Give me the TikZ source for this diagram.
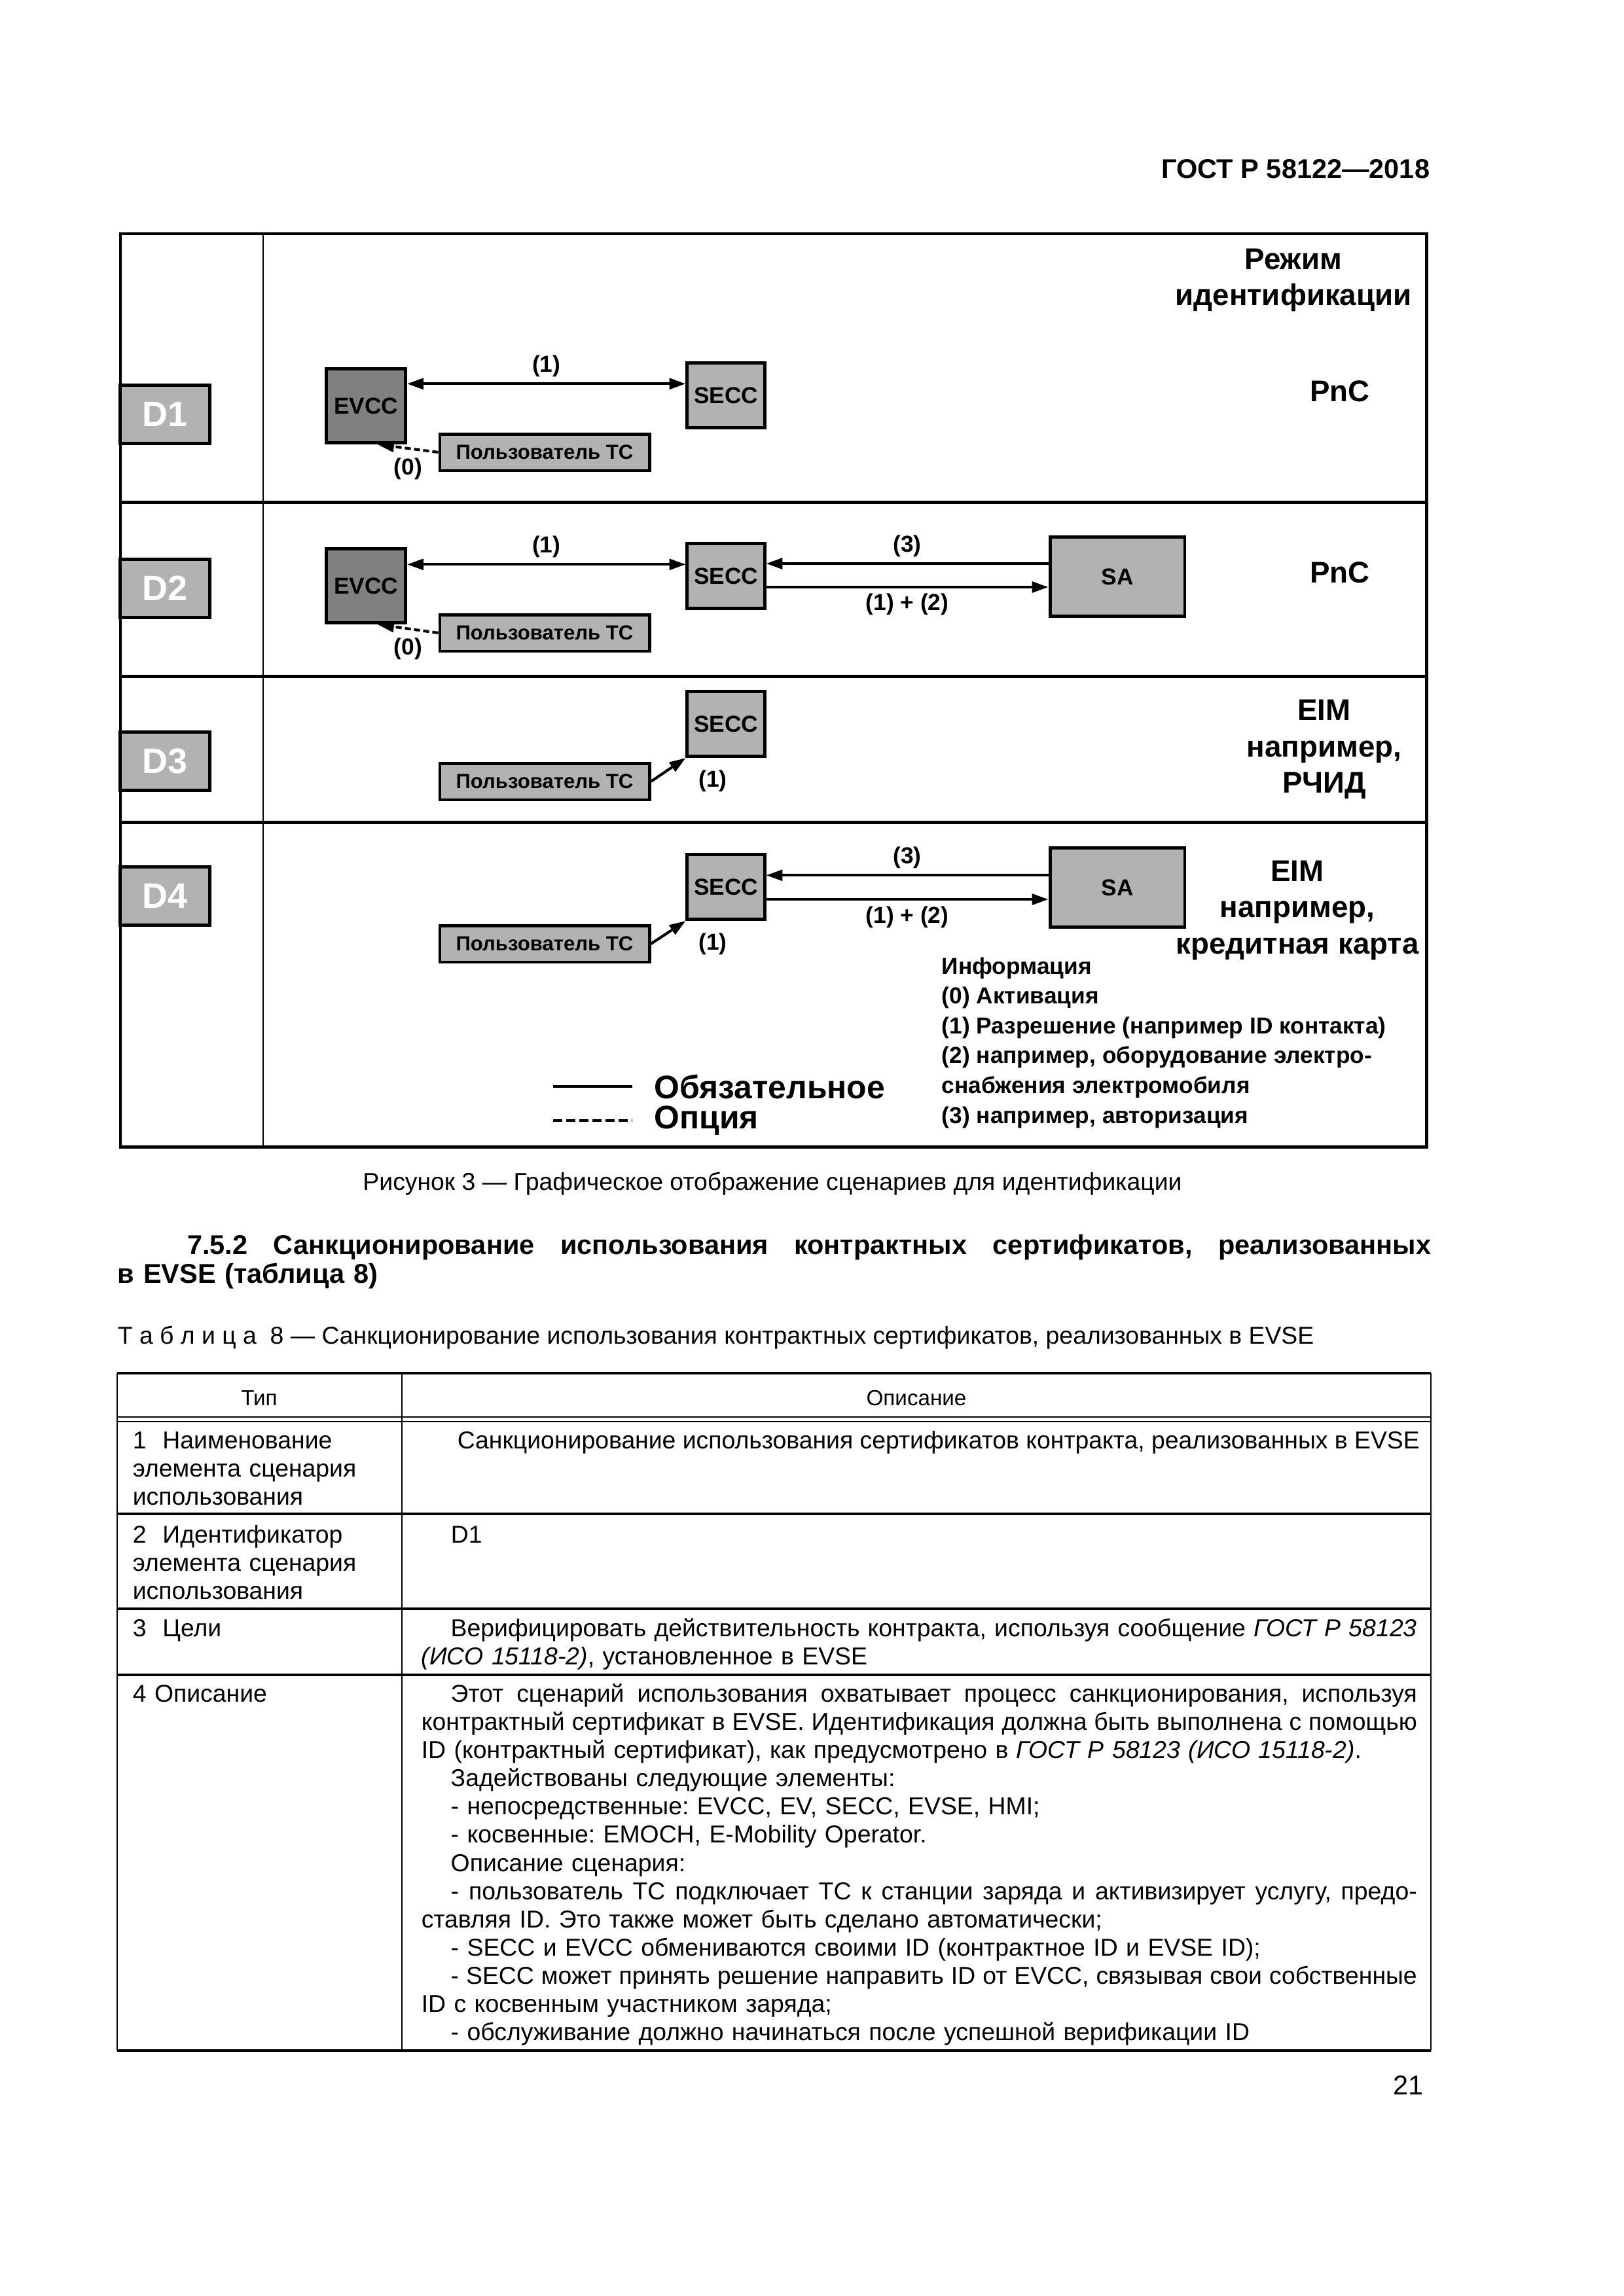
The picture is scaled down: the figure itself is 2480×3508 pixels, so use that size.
\documentclass[tikz,border=0pt]{standalone}
\usepackage{fontspec}
\setmainfont{Liberation Sans}
\usetikzlibrary{arrows.meta,positioning}
\definecolor{boxgray}{gray}{0.70}
\definecolor{evgray}{gray}{0.50}
\newlength\cellw \setlength\cellw{12.88cm}
\newlength\parind \setlength\parind{0.38cm}
\newcommand\jline[2][\cellw]{\makebox[#1][s]{\spaceskip=\fontdimen2\font plus 1fil minus .3\fontdimen2\font\relax#2}}
\newcommand\fnt[2]{\fontsize{#1}{#2}\selectfont}
\frenchspacing
\tikzset{
dframe/.style={line width=1.2pt},
blk/.style={draw,line width=1.2pt,fill=boxgray,inner sep=0pt,font=\bfseries\fnt{8.5}{10}},
dbox/.style={blk,minimum width=1.16cm,minimum height=.76cm,text=white,font=\bfseries\fnt{13}{15}},
evcc/.style={blk,fill=evgray,minimum width=1.025cm,minimum height=.96cm},
secc/.style={blk,minimum width=1cm,minimum height=.84cm},
sabox/.style={blk,minimum width=1.744cm,minimum height=1.03cm},
user/.style={blk,minimum width=2.71cm,minimum height=.474cm,font=\bfseries\fnt{7.5}{9}},
lbl/.style={inner sep=1pt,font=\bfseries\fnt{8.5}{10}},
idmode/.style={align=center,font=\bfseries\fnt{11}{13.4}},
flow/.style={-{Triangle[length=6pt,width=4pt]},line width=1pt},
both/.style={{Triangle[length=6pt,width=4pt]}-{Triangle[length=6pt,width=4pt]},line width=1pt},
opt/.style={flow,dash pattern=on 2.2pt off 1.2pt},
txt/.style={inner sep=0pt,font=\fnt{9}{10.4}},
tcell/.style={txt,anchor=base west,align=left},
tline/.style={line width=.9pt},
vline/.style={line width=.5pt}
}
\begin{document}
\begin{tikzpicture}[x=0.0084677cm,y=-0.0084677cm]
\useasboundingbox[fill=white] (0,0) rectangle (2480,3508);
\node[anchor=base east,inner sep=0pt,font=\bfseries\fnt{10}{12}] (gost) at (2185,272) {ГОСТ Р 58122—2018};

% figure frame
\draw[dframe] (184,357) rectangle (2179,1752);
\draw[line width=.6pt] (402,357) -- (402,1752);
\foreach \yy in {767,1033,1256} \draw[dframe] (184,\yy) -- (2179,\yy);
\node[idmode] (hdr) at (1976,428) {Режим\\идентификации};

% D1
\node[dbox] (d1) at (252,633) {D1};
\node[evcc] (ev1) at (559,620) {EVCC};
\node[secc] (se1) at (1109,604) {SECC};
\node[user] (u1) at (832,691) {Пользователь ТС};
\draw[both] (se1.164 -| ev1.east) -- node[lbl,above=1pt] (l1a) {(1)} (se1.164);
\draw[opt] (u1.west) -- node[lbl,below=2pt] (l1b) {(0)} (ev1.-73);
\node[idmode] (pnc1) at (2047,598) {PnC};

% D2
\node[dbox] (d2) at (252,899) {D2};
\node[evcc] (ev2) at (559,895) {EVCC};
\node[secc] (se2) at (1109,880) {SECC};
\node[sabox] (sa2) at (1707,881) {SA};
\node[user] (u2) at (832,967) {Пользователь ТС};
\coordinate (sa2a) at ([yshift=4.8pt]sa2.west);
\coordinate (se2b) at ([yshift=-4.1pt]se2.east);
\draw[both] (se2.164 -| ev2.east) -- node[lbl,above=1pt] (l2a) {(1)} (se2.164);
\draw[flow] (sa2a) -- node[lbl,above=1pt] (l2c) {(3)} (sa2a -| se2.east);
\draw[flow] (se2b) -- node[lbl,below=1pt] (l2d) {(1) + (2)} (se2b -| sa2.west);
\draw[opt] (u2.west) -- node[lbl,below=2pt] (l2b) {(0)} (ev2.-73);
\node[idmode] (pnc2) at (2047,875) {PnC};

% D3
\node[dbox] (d3) at (252,1163) {D3};
\node[secc] (se3) at (1109,1106) {SECC};
\node[user] (u3) at (832,1194) {Пользователь ТС};
\draw[flow] (u3.east) -- (se3.south west);
\node[lbl] (l3) at (1089,1193) {(1)};
\node[idmode] (eim3) at (2023,1145) {EIM\\например,\\РЧИД};

% D4
\node[dbox] (d4) at (252,1369) {D4};
\node[secc] (se4) at (1109,1355) {SECC};
\node[sabox] (sa4) at (1707,1356) {SA};
\node[user] (u4) at (832,1442) {Пользователь ТС};
\coordinate (sa4a) at ([yshift=4.5pt]sa4.west);
\coordinate (se4b) at ([yshift=-4.6pt]se4.east);
\draw[flow] (sa4a) -- node[lbl,above=1pt] (l4c) {(3)} (sa4a -| se4.east);
\draw[flow] (se4b) -- node[lbl,below=1pt] (l4d) {(1) + (2)} (se4b -| sa4.west);
\draw[flow] (u4.east) -- (se4.south west);
\node[lbl] (l4) at (1089,1442) {(1)};
\node[idmode] (eim4) at (1982,1391) {EIM\\например,\\кредитная карта};

\node[anchor=west,align=left,inner sep=0pt,font=\bfseries\fnt{8.5}{11}] (info) at (1438,1593) {Информация\\(0) Активация\\(1) Разрешение (например ID контакта)\\(2) например, оборудование электро-\\снабжения электромобиля\\(3) например, авторизация};
\node[anchor=west,inner sep=0pt,font=\bfseries\fnt{12}{14}] (lm) at (999,1660) {Обязательное};
\node[anchor=west,inner sep=0pt,font=\bfseries\fnt{12}{14}] (lo) at (999,1712) {Опция};
\draw[line width=1.1pt] ([xshift=-37pt]lm.west) -- ([xshift=-8pt]lm.west);
\draw[line width=.8pt,dash pattern=on 3.3pt off 1.5pt] ([xshift=-37pt]lo.west) -- ([xshift=-8pt]lo.west);

\node[txt,anchor=base] (cap) at (1180,1818) {Рисунок 3 — Графическое отображение сценариев для идентификации};
\node[tcell,text width=16.99cm,font=\bfseries\fnt{10}{10.6}] (h752) at (179,1916) {\jline[16.99cm]{\hspace*{0.9cm}7.5.2 Санкционирование использования контрактных сертификатов, реализованных}\\в EVSE (таблица 8)};
\node[tcell] (tabt) at (179,2053) {Т а б л и ц а\ \ 8 — Санкционирование использования контрактных сертификатов, реализованных в EVSE};

% table 8
\foreach \yy in {2098,2313,2458,2559,3133} \draw[tline] (179,\yy) -- (2186,\yy);
\foreach \yy in {2165,2172} \draw[vline] (179,\yy) -- (2186,\yy);
\foreach \xx in {179,614,2186} \draw[vline] (\xx,2098) -- (\xx,3133);
\node[txt,anchor=base,font=\fnt{8}{10}] (th1) at (396,2147) {Тип};
\node[txt,anchor=base,font=\fnt{8}{10}] (th2) at (1400,2147) {Описание};
\node[tcell,text width=4cm] (c1) at (202,2213) {1\ \ Наименование\\элемента сценария\\использования};
\node[tcell] (c1r) at (698,2213) {Санкционирование использования сертификатов контракта, реализованных в EVSE};
\node[tcell,text width=4cm] (c2) at (202,2357) {2\ \ Идентификатор\\элемента сценария\\использования};
\node[tcell] (c2r) at (688,2357) {D1};
\node[tcell,text width=4cm] (c3) at (202,2500) {3\ \ Цели};
\node[tcell,text width=\cellw] (c3r) at (643,2500) {\jline{\hspace*{\parind}Верифицировать действительность контракта, используя сообщение \textit{ГОСТ Р 58123}}\\\textit{(ИСО 15118-2)}, установленное в EVSE};
\node[tcell,text width=4cm] (c4) at (202,2600) {4 Описание};
\node[tcell,text width=\cellw] (c4r) at (643,2600) {\jline{\hspace*{\parind}Этот сценарий использования охватывает процесс санкционирования, используя}\\
\jline{контрактный сертификат в EVSE. Идентификация должна быть выполнена с помощью}\\
ID (контрактный сертификат), как предусмотрено в \textit{ГОСТ Р 58123 (ИСО 15118-2)}.\\
\hspace*{\parind}Задействованы следующие элементы:\\
\hspace*{\parind}- непосредственные: EVCC, EV, SECC, EVSE, HMI;\\
\hspace*{\parind}- косвенные: EMOCH, E-Mobility Operator.\\
\hspace*{\parind}Описание сценария:\\
\jline{\hspace*{\parind}- пользователь ТС подключает ТС к станции заряда и активизирует услугу, предо-}\\
ставляя ID. Это также может быть сделано автоматически;\\
\hspace*{\parind}- SECC и EVCC обмениваются своими ID (контрактное ID и EVSE ID);\\
\jline{\hspace*{\parind}- SECC может принять решение направить ID от EVCC, связывая свои собственные}\\
ID с косвенным участником заряда;\\
\hspace*{\parind}- обслуживание должно начинаться после успешной верификации ID};
\node[anchor=base east,inner sep=0pt,font=\fnt{10}{12}] (pg) at (2175,3200) {21};
\end{tikzpicture}
\end{document}
